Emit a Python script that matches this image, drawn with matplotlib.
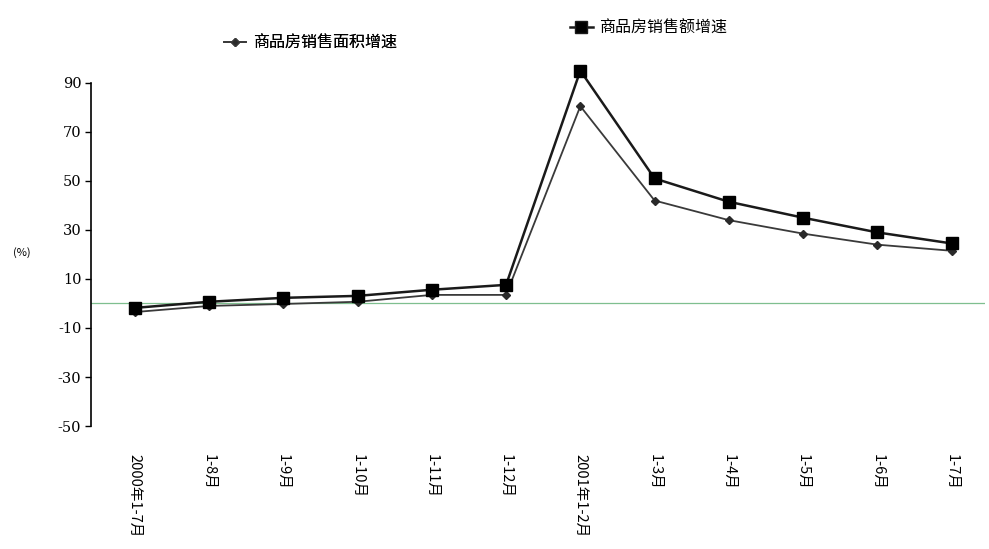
import numpy as np
import matplotlib.pyplot as plt
from matplotlib.lines import Line2D

plt.rcParams['font.family'] = ['Noto Sans CJK SC', 'DejaVu Sans']

months = ["2000年1-7月", "1-8月", "1-9月", "1-10月", "1-11月", "1-12月",
          "2001年1-2月", "1-3月", "1-4月", "1-5月", "1-6月", "1-7月"]
area_growth = [-3.5, -1.0, -0.2, 0.7, 3.5, 3.5, 80.5, 42.0, 34.0, 28.5, 24.0, 21.5]
sales_growth = [-1.8, 0.7, 2.3, 3.1, 5.6, 7.6, 95.0, 51.0, 41.5, 35.0, 29.0, 24.5]
y_ticks = [90, 70, 50, 30, 10, -10, -30, -50]

fig = plt.figure(figsize=(9.89, 5.49), dpi=100)
ax = fig.add_axes([0.092, 0.224, 0.904, 0.625])

x = np.arange(len(months))
ax.axhline(0, color="#7fbf8f", linewidth=0.9, zorder=1)
ax.plot(x, area_growth, color="#3a3a3a", linewidth=1.3, marker="D",
        markersize=4.5, markerfacecolor="#2a2a2a", markeredgecolor="#2a2a2a",
        zorder=3, clip_on=False)
ax.plot(x, sales_growth, color="#1a1a1a", linewidth=1.8, marker="s",
        markersize=9, markerfacecolor="black", markeredgecolor="black",
        zorder=4, clip_on=False)

ax.set_xlim(-0.59, 11.45)
ax.set_ylim(-50, 90)
ax.set_yticks(y_ticks)
ax.set_yticklabels([str(v) for v in y_ticks], fontfamily="DejaVu Serif", fontsize=10.5)
ax.tick_params(axis="y", direction="out", length=4, width=1, pad=3)

ax.set_xticks(x)
ax.set_xticklabels(months, rotation=270, fontsize=10.5, va="top", ha="center")
ax.tick_params(axis="x", length=0, pad=20)

for side in ["top", "right", "bottom"]:
    ax.spines[side].set_visible(False)
ax.spines["left"].set_linewidth(1.2)

fig.text(0.022, 0.54, "(%)", fontsize=8, ha="center", va="center")

h1 = Line2D([], [], color="#3a3a3a", linewidth=1.3, marker="D", markersize=4.5,
            markerfacecolor="#2a2a2a")
h2 = Line2D([], [], color="#1a1a1a", linewidth=1.8, marker="s", markersize=8,
            markerfacecolor="black")
leg1 = fig.legend([h1], ["商品房销售面积增速"], loc="center left",
                  bbox_to_anchor=(0.212, 0.922), frameon=False, fontsize=11.5,
                  handlelength=1.4, handletextpad=0.4)
fig.add_artist(leg1)
fig.legend([h2], ["商品房销售额增速"], loc="center left",
           bbox_to_anchor=(0.562, 0.949), frameon=False, fontsize=11.5,
           handlelength=1.4, handletextpad=0.4)

fig.savefig("out.png", dpi=100)
